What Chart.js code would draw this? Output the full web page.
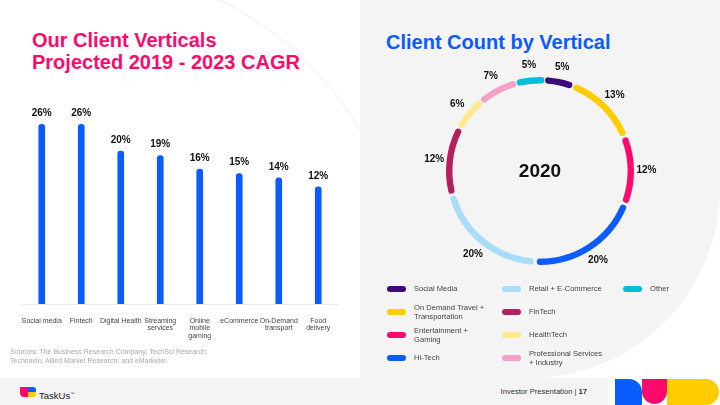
<!DOCTYPE html>
<html lang="en">
<head>
<meta charset="UTF-8">
<title>Client Verticals</title>
<script src="https://cdn.jsdelivr.net/npm/chart.js"></script>
<style>
  body { margin: 0; width: 720px; height: 405px; position: relative; overflow: hidden; background: #fff; font-family: "Liberation Sans", Arial, sans-serif; }
  .abs { position: absolute; }
  #rightPanel { left: 360px; top: 0; width: 360px; height: 378px; background: #f4f4f4; border-bottom-right-radius: 190px; }
  #leftPanel { left: 0; top: 0; width: 360px; height: 378px; background: #fff; overflow: hidden; }
  #arc { left: -270px; top: -36px; width: 676px; height: 676px; border: 1px solid #efefef; border-radius: 50%; }
  #footer { left: 0; top: 378px; width: 608px; height: 27px; background: #f4f4f4; }
  .title { font-weight: bold; font-size: 20px; line-height: 22px; margin: 0; }
  #leftTitle { left: 32px; top: 29px; color: #ff0a6c; }
  #rightTitle { left: 386px; top: 31px; color: #0a5cff; }
  #legend { left: 387px; top: 277px; display: grid; grid-auto-flow: column; grid-template-rows: repeat(4, 23px); grid-template-columns: 115px 121px 80px; }
  .item { display: flex; align-items: center; font-size: 7.6px; line-height: 9px; color: #444; white-space: pre-line; }
  .sw { width: 19px; height: 6px; border-radius: 3px; margin-right: 8px; flex: none; }
  #sources { left: 10px; top: 348px; font-size: 7px; line-height: 8.7px; color: #aaa; }
  #pres { right: 133px; top: 387px; font-size: 7.6px; line-height: 10px; color: #333; }
  #brand { left: 39px; top: 388px; font-size: 9.5px; line-height: 12px; color: #222; }
  #brand sup { font-size: 4px; }
  .ic { position: absolute; }
</style>
</head>
<body>
<div class="abs" id="leftPanel"><div class="abs" id="arc"></div></div>
<div class="abs" id="rightPanel"></div>
<div class="abs" id="footer"></div>

<h1 class="abs title" id="leftTitle">Our Client Verticals<br>Projected 2019 - 2023 CAGR</h1>
<h1 class="abs title" id="rightTitle">Client Count by Vertical</h1>

<canvas class="abs" id="barChart" width="360" height="260" style="left:0;top:100px"></canvas>
<canvas class="abs" id="donutChart" width="260" height="260" style="left:410px;top:41px"></canvas>
<div class="abs" id="legend"></div>

<div class="abs" id="sources">Sources: The Business Research Company; TechSci Research;<br>Technavio; Allied Market Research; and eMarketer.</div>

<div class="ic" style="left:20px;top:387px;width:8px;height:10px;background:#ff0a6c;border-radius:0 0 0 4px"></div>
<div class="ic" style="left:28px;top:387px;width:8px;height:5px;background:#0a5cff;border-radius:0 3px 0 0"></div>
<div class="ic" style="left:28px;top:392px;width:8px;height:5px;background:#ffcc00;border-radius:0 0 3px 0"></div>
<div class="abs" id="brand">TaskUs<sup>™</sup></div>
<div class="abs" id="pres">Investor Presentation | <b>17</b></div>

<div class="ic" style="left:615px;top:379px;width:27px;height:26px;background:#0a5cff;border-top-right-radius:13px"></div>
<div class="ic" style="left:642px;top:379px;width:25px;height:25px;background:#ff0a6c;border-radius:0 0 12.5px 12.5px"></div>
<div class="ic" style="left:667px;top:379px;width:52px;height:26px;background:#ffcc00;border-radius:0 13px 13px 0"></div>

<script>
  // bar chart data
  const barLabels = ['Social media', 'Fintech', 'Digital Health', ['Streaming', 'services'],
    ['Online', 'mobile', 'gaming'], 'eCommerce', ['On-Demand', 'transport'], ['Food', 'delivery']];
  const cagrValues = [26, 26, 20, 19, 16, 15, 14, 12];

  // donut data
  const verticals = ['Social Media', 'On Demand Travel +\nTransportation', 'Entertainment +\nGaming', 'Hi-Tech',
    'Retail + E-Commerce', 'FinTech', 'HealthTech', 'Professional Services\n+ Industry', 'Other'];
  const clientShare = [5, 13, 12, 20, 20, 12, 6, 7, 5];
  const verticalColors = ['#3d0a7c', '#ffcc00', '#ff0a6c', '#0a5cff', '#a8dcf7', '#b51f5e', '#fde98e', '#f6a0c8', '#00bfd8'];
  const centerLabel = '2020';

  // the slide's bars don't start at zero, axis floor is below 0
  const yFloor = -14.2;

  const barValueLabels = {
    id: 'barValueLabels',
    afterDatasetsDraw(chart) {
      const ctx = chart.ctx;
      ctx.save();
      ctx.font = 'bold 10px "Liberation Sans", Arial, sans-serif';
      ctx.fillStyle = '#111';
      ctx.textAlign = 'center';
      ctx.textBaseline = 'middle';
      chart.getDatasetMeta(0).data.forEach((bar, i) => {
        ctx.fillText(cagrValues[i] + '%', bar.x, bar.y - 11);
      });
      ctx.restore();
    }
  };

  new Chart(document.getElementById('barChart'), {
    type: 'bar',
    data: {
      labels: barLabels,
      datasets: [{
        data: cagrValues,
        base: yFloor,
        backgroundColor: '#0a5cff',
        barThickness: 6,
        borderRadius: 3
      }]
    },
    options: {
      responsive: false,
      animation: false,
      layout: { padding: { left: 22, right: 22, top: 10, bottom: 0 } },
      plugins: { legend: { display: false }, tooltip: { enabled: false } },
      scales: {
        y: { display: false, min: yFloor, max: 29.2 },
        x: {
          grid: { display: false },
          border: { display: true, color: '#ececec' },
          ticks: {
            color: '#444',
            font: { family: '"Liberation Sans", Arial, sans-serif', size: 7, lineHeight: 1.1 },
            maxRotation: 0,
            autoSkip: false,
            padding: 5
          },
          afterFit: (s) => { s.height = 56; }
        }
      }
    },
    plugins: [barValueLabels]
  });

  const donutLabels = {
    id: 'donutLabels',
    afterDatasetsDraw(chart) {
      const ctx = chart.ctx;
      const arcs = chart.getDatasetMeta(0).data;
      ctx.save();
      ctx.fillStyle = '#111';
      ctx.textAlign = 'center';
      ctx.textBaseline = 'middle';
      ctx.font = 'bold 10px "Liberation Sans", Arial, sans-serif';
      arcs.forEach((arc, i) => {
        const p = arc.getProps(['x', 'y', 'startAngle', 'endAngle', 'outerRadius'], true);
        const mid = (p.startAngle + p.endAngle) / 2;
        const r = p.outerRadius + 15;
        ctx.fillText(clientShare[i] + '%', p.x + Math.cos(mid) * r, p.y + Math.sin(mid) * r);
      });
      const c = arcs[0];
      ctx.font = 'bold 19px "Liberation Sans", Arial, sans-serif';
      ctx.fillText(centerLabel, c.x, c.y + 1);
      ctx.restore();
    }
  };

  const donut = new Chart(document.getElementById('donutChart'), {
    type: 'doughnut',
    data: {
      labels: verticals,
      datasets: [{
        data: clientShare,
        backgroundColor: verticalColors,
        borderWidth: 0,
        borderRadius: 3,
        spacing: 5
      }]
    },
    options: {
      responsive: false,
      animation: false,
      rotation: 3,
      cutout: '93%',
      layout: { padding: 36 },
      plugins: { legend: { display: false }, tooltip: { enabled: false } }
    },
    plugins: [donutLabels]
  });

  // legend in 3 columns, built from the chart's own data
  const legendBox = document.getElementById('legend');
  donut.data.labels.forEach((label, i) => {
    const item = document.createElement('div');
    item.className = 'item';
    const sw = document.createElement('span');
    sw.className = 'sw';
    sw.style.background = donut.data.datasets[0].backgroundColor[i];
    const txt = document.createElement('span');
    txt.textContent = label;
    item.appendChild(sw);
    item.appendChild(txt);
    legendBox.appendChild(item);
  });
</script>
</body>
</html>
